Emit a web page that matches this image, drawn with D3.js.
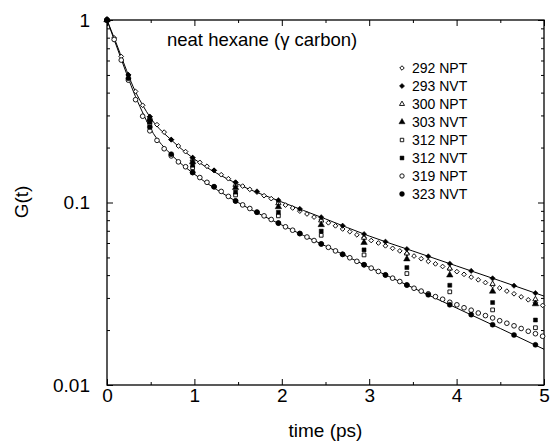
<!DOCTYPE html>
<html><head><meta charset="utf-8">
<script src="https://cdn.jsdelivr.net/npm/d3@7"></script>
<style>
body{margin:0;background:#fff;}
svg{display:block;}
text{font-family:"Liberation Sans",Arial,Helvetica,sans-serif;fill:#000;}
</style>
</head><body>
<svg id="c" width="551" height="445"></svg>
<script>
// ---- data ----
const tNPT = [0,0.082,0.163,0.245,0.327,0.408,0.490,0.572,0.654,0.735,0.817,0.899,0.980,1.062,1.144,1.225,1.307,1.389,1.471,1.552,1.634,1.716,1.797,1.879,1.961,2.042,2.124,2.206,2.288,2.369,2.451,2.533,2.614,2.696,2.778,2.859,2.941,3.023,3.105,3.186,3.268,3.350,3.431,3.513,3.595,3.676,3.758,3.840,3.922,4.003,4.085,4.167,4.248,4.330,4.412,4.493,4.575,4.657,4.739,4.820,4.902,4.984];
const tNVT = [0,0.245,0.490,0.735,0.980,1.225,1.471,1.716,1.961,2.206,2.451,2.696,2.941,3.186,3.431,3.676,3.922,4.167,4.412,4.657,4.902];
const tMix = [0,0.490,0.980,1.471,1.961,2.451,2.941,3.431,3.922,4.412,4.902];

const g292NPT = [1.000,0.798,0.631,0.500,0.406,0.341,0.295,0.267,0.243,0.221,0.204,0.190,0.176,0.166,0.158,0.150,0.142,0.135,0.129,0.123,0.118,0.114,0.109,0.105,0.101,0.0968,0.0933,0.0897,0.0865,0.0832,0.0802,0.0774,0.0745,0.0716,0.0692,0.0665,0.0641,0.0619,0.0600,0.0579,0.0561,0.0543,0.0525,0.0509,0.0492,0.0476,0.0461,0.0446,0.0432,0.0418,0.0404,0.0390,0.0377,0.0364,0.0351,0.0340,0.0327,0.0316,0.0304,0.0293,0.0282,0.0273];
const g319NPT = [1.000,0.782,0.603,0.468,0.366,0.297,0.247,0.219,0.197,0.180,0.167,0.157,0.146,0.137,0.129,0.122,0.115,0.108,0.102,0.0970,0.0927,0.0885,0.0845,0.0807,0.0771,0.0736,0.0705,0.0676,0.0647,0.0619,0.0593,0.0568,0.0543,0.0520,0.0498,0.0476,0.0456,0.0437,0.0419,0.0401,0.0385,0.0369,0.0353,0.0339,0.0327,0.0316,0.0305,0.0295,0.0284,0.0275,0.0265,0.0257,0.0248,0.0240,0.0233,0.0225,0.0218,0.0211,0.0204,0.0197,0.0191,0.0185];
const g293NVT = [1.000,0.500,0.295,0.221,0.176,0.150,0.129,0.115,0.103,0.0923,0.0830,0.0746,0.0671,0.0610,0.0556,0.0507,0.0462,0.0422,0.0384,0.0350,0.0319];
const g323NVT = [1.000,0.479,0.259,0.184,0.146,0.122,0.102,0.0885,0.0771,0.0676,0.0593,0.0520,0.0456,0.0401,0.0353,0.0312,0.0275,0.0243,0.0214,0.0188,0.0166];
const g300NPT = [1.000,0.291,0.172,0.125,0.0991,0.0797,0.0641,0.0526,0.0435,0.0358,0.0295];
const g303NVT = [1.000,0.285,0.167,0.1205,0.0947,0.0755,0.0603,0.0490,0.0400,0.0326,0.0278];
const g312NVT = [1.000,0.276,0.160,0.114,0.0884,0.0697,0.0550,0.0440,0.0352,0.0283,0.0227];
const g312NPT = [1.000,0.270,0.155,0.110,0.0845,0.0661,0.0516,0.0408,0.0324,0.0258,0.0206];

const tFit = [0,0.1,0.2,0.3,0.4,0.5,0.75,1,1.5,2,2.5,3,3.5,4,4.5,5];
const fitUpper = [1,0.758,0.567,0.430,0.347,0.290,0.217,0.173,0.126,0.1006,0.0813,0.0655,0.0542,0.0449,0.0372,0.0307];
const fitLower = [1,0.739,0.546,0.408,0.317,0.253,0.180,0.143,0.100,0.0753,0.0578,0.0442,0.0341,0.0264,0.0204,0.0157];

const xTicks = [0,1,2,3,4,5];
const yTicks = [0.01,0.1,1];
const legendLabels = ["292 NPT","293 NVT","300 NPT","303 NVT","312 NPT","312 NVT","319 NPT","323 NVT"];
const titleText = "neat hexane (\u03b3 carbon)";

// ---- layout ----
const L = 107, R = 544, T = 20, B = 385;
const svg = d3.select("#c");
const x = d3.scaleLinear().domain([0,5]).range([L,R]);
const y = d3.scaleLog().domain([0.01,1]).range([B,T]);

const minorY = [];
[0.01,0.1].forEach(d => { for (let i=2;i<10;i++) minorY.push(d*i); });
const minorX = [0.5,1.5,2.5,3.5,4.5];

// axes (ticks inward)
const g = svg.append("g");
function styleAxis(sel){ sel.select(".domain").remove(); sel.selectAll("line").attr("stroke","#000").attr("stroke-width",1); }
g.append("g").attr("transform",`translate(0,${B})`)
  .call(d3.axisBottom(x).tickValues(xTicks).tickSize(-6).tickPadding(3).tickFormat(d3.format("d")))
  .call(styleAxis).selectAll("text").attr("font-size",19).attr("font-family","Liberation Sans, Arial, sans-serif");
g.append("g").attr("transform",`translate(0,${B})`)
  .call(d3.axisBottom(x).tickValues(minorX).tickSize(-3).tickFormat(""))
  .call(styleAxis);
g.append("g").attr("transform",`translate(0,${T})`)
  .call(d3.axisTop(x).tickValues(xTicks).tickSize(-6).tickFormat(""))
  .call(styleAxis);
g.append("g").attr("transform",`translate(0,${T})`)
  .call(d3.axisTop(x).tickValues(minorX).tickSize(-3).tickFormat(""))
  .call(styleAxis);
g.append("g").attr("transform",`translate(${L},0)`)
  .call(d3.axisLeft(y).tickValues(yTicks).tickSize(-6).tickPadding(17).tickFormat(d => d3.format("")(d)))
  .call(styleAxis).selectAll("text").attr("font-size",19).attr("font-family","Liberation Sans, Arial, sans-serif");
g.append("g").attr("transform",`translate(${L},0)`)
  .call(d3.axisLeft(y).tickValues(minorY).tickSize(-3).tickFormat(""))
  .call(styleAxis);
g.append("g").attr("transform",`translate(${R},0)`)
  .call(d3.axisRight(y).tickValues(yTicks).tickSize(-6).tickFormat(""))
  .call(styleAxis);
g.append("g").attr("transform",`translate(${R},0)`)
  .call(d3.axisRight(y).tickValues(minorY).tickSize(-3).tickFormat(""))
  .call(styleAxis);

svg.append("rect").attr("x",L).attr("y",T).attr("width",R-L).attr("height",B-T)
  .attr("fill","none").attr("stroke","#000").attr("stroke-width",1.3);

// fit lines
const line = d3.line().x(d=>x(d[0])).y(d=>y(d[1])).curve(d3.curveMonotoneX);
[fitUpper, fitLower].forEach(arr => {
  svg.append("path").datum(tFit.map((t,i)=>[t,arr[i]]))
    .attr("d",line).attr("fill","none").attr("stroke","#000").attr("stroke-width",1);
});

// markers (diamond = square rotated 45deg)
const series = [
  {t:tNPT, v:g292NPT, type:d3.symbolSquare, rot:45, size:11, filled:false},
  {t:tNPT, v:g319NPT, type:d3.symbolCircle, rot:0, size:17, filled:false},
  {t:tMix, v:g312NPT, type:d3.symbolSquare, rot:0, size:14, filled:false},
  {t:tMix, v:g300NPT, type:d3.symbolTriangle, rot:0, size:12, filled:false},
  {t:tMix, v:g312NVT, type:d3.symbolSquare, rot:0, size:16, filled:true},
  {t:tMix, v:g303NVT, type:d3.symbolTriangle, rot:0, size:18, filled:true},
  {t:tNVT, v:g293NVT, type:d3.symbolSquare, rot:45, size:14, filled:true},
  {t:tNVT, v:g323NVT, type:d3.symbolCircle, rot:0, size:20, filled:true}
];
series.forEach(s => {
  svg.append("g").selectAll("path").data(s.t.map((t,i)=>[t,s.v[i]])).join("path")
    .attr("transform", d=>`translate(${x(d[0])},${y(d[1])}) rotate(${s.rot})`)
    .attr("d", d3.symbol().type(s.type).size(s.size))
    .attr("fill", s.filled ? "#000" : "#fff")
    .attr("stroke","#000").attr("stroke-width", s.filled ? 0.5 : 0.9);
});

// legend
const legTypes = [
  {type:d3.symbolSquare,rot:45,size:10,filled:false},
  {type:d3.symbolSquare,rot:45,size:13,filled:true},
  {type:d3.symbolTriangle,rot:0,size:11,filled:false},
  {type:d3.symbolTriangle,rot:0,size:16,filled:true},
  {type:d3.symbolSquare,rot:0,size:12,filled:false},
  {type:d3.symbolSquare,rot:0,size:15,filled:true},
  {type:d3.symbolCircle,rot:0,size:15,filled:false},
  {type:d3.symbolCircle,rot:0,size:19,filled:true}
];
const leg = svg.append("g");
legendLabels.forEach((lab,i) => {
  const yy = 68 + i*18;
  leg.append("path").attr("transform",`translate(402,${yy}) rotate(${legTypes[i].rot})`)
    .attr("d", d3.symbol().type(legTypes[i].type).size(legTypes[i].size))
    .attr("fill", legTypes[i].filled ? "#000" : "#fff")
    .attr("stroke","#000").attr("stroke-width",legTypes[i].filled?0.5:0.9);
  leg.append("text").attr("x",412).attr("y",yy).attr("dy","0.36em")
    .attr("font-size",14).text(lab);
});

// title & axis labels
svg.append("text").attr("x",167).attr("y",46).attr("font-size",18.5).text(titleText);
svg.append("text").attr("x",(L+R)/2).attr("y",437).attr("text-anchor","middle").attr("font-size",19).text("time (ps)");
svg.append("text").attr("transform","translate(28,202) rotate(-90)").attr("text-anchor","middle").attr("font-size",19).text("G(t)");
</script>
</body></html>
